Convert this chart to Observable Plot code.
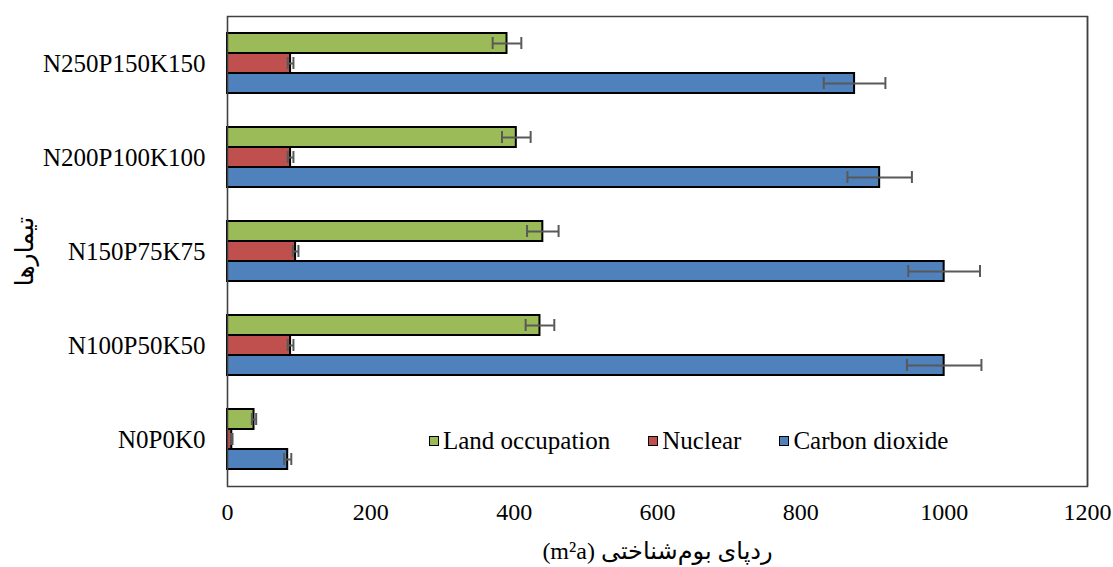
<!DOCTYPE html>
<html>
<head>
<meta charset="utf-8">
<script src="https://cdn.jsdelivr.net/npm/d3@7"></script>
<script src="https://cdn.jsdelivr.net/npm/@observablehq/plot@0.6"></script>
<style>
  body { margin: 0; background: #fff; }
  #chart { position: relative; width: 1113px; height: 567px; font-family: "Liberation Serif", "Times New Roman", "DejaVu Sans", serif; }
  #chart svg { display: block; }
  #chart svg text { font-family: "Liberation Serif", "Times New Roman", "DejaVu Sans", serif; font-variant-numeric: normal; }
  .legend { position: absolute; left: 429px; top: 427px; display: flex; align-items: center; font-size: 25px; color: #000; white-space: nowrap; }
  .legend .item { display: flex; align-items: center; margin-right: 38px; }
  .legend .sw { width: 8px; height: 8px; border: 1.5px solid #000; margin-right: 4px; }
</style>
</head>
<body>
<div id="chart"></div>
<script>
// Treatments (fertiliser levels), top to bottom
const treatments = ["N250P150K150", "N200P100K100", "N150P75K75", "N100P50K50", "N0P0K0"];
// Footprint components, drawn top to bottom inside each group
const series = ["Land occupation", "Nuclear", "Carbon dioxide"];
const seriesColors = ["#9BBB59", "#C0504D", "#4F81BD"];

// Mean footprint values (m²a) per treatment, same order as `treatments`
const landOccupation = [390, 403, 440, 436, 37];
const nuclear = [88, 88, 95, 88, 6];
const carbonDioxide = [875, 910, 1000, 1000, 84];

// Standard errors
const landOccupationErr = [20, 20, 22, 20, 3];
const nuclearErr = [4, 4, 4, 4, 1];
const carbonDioxideErr = [43, 45, 50, 52, 5];

const xTicks = [0, 200, 400, 600, 800, 1000, 1200];
const xTitle = "(m²a) ردپای بوم‌شناختی";
const yTitle = "تیمارها";

const values = [landOccupation, nuclear, carbonDioxide];
const errors = [landOccupationErr, nuclearErr, carbonDioxideErr];
const rows = treatments.flatMap((t, i) =>
  series.map((s, j) => ({
    treatment: t,
    series: s,
    value: values[j][i],
    lo: values[j][i] - errors[j][i],
    hi: values[j][i] + errors[j][i]
  }))
);

const errColor = "#595959";
const serif = "'Liberation Serif', 'Times New Roman', 'DejaVu Sans', serif";

const chart = Plot.plot({
  width: 1113,
  height: 567,
  marginLeft: 227,
  marginRight: 26,
  marginTop: 14,
  marginBottom: 80,
  style: { fontFamily: serif, fontSize: "24px", color: "#000", background: "#fff" },
  x: { domain: [0, 1200] },
  fy: { domain: treatments, padding: 0 },
  y: { domain: series, paddingInner: 0, paddingOuter: 0.75, axis: null },
  color: { domain: series, range: seriesColors },
  marks: [
    Plot.ruleX([0], { stroke: "#d0d0d0", strokeWidth: 1.5 }),
    Plot.barX(rows, { x: "value", y: "series", fy: "treatment", fill: "series", stroke: "#000", strokeWidth: 2 }),
    Plot.ruleY(rows, { y: "series", fy: "treatment", x1: "lo", x2: "hi", stroke: errColor, strokeWidth: 2 }),
    Plot.tickX(rows, { x: "lo", y: "series", fy: "treatment", stroke: errColor, strokeWidth: 2, insetTop: 4, insetBottom: 4 }),
    Plot.tickX(rows, { x: "hi", y: "series", fy: "treatment", stroke: errColor, strokeWidth: 2, insetTop: 4, insetBottom: 4 }),
    Plot.ruleX([1200], { stroke: "#404040", strokeWidth: 1.5 }),
    Plot.frame({ facet: "super", stroke: "#404040", strokeWidth: 1.5 }),
    Plot.axisFy({ anchor: "left", tickSize: 0, tickPadding: 22, fontSize: 25, fontFamily: serif, label: yTitle, labelAnchor: "center", labelOffset: 212 }),
    Plot.axisX({ ticks: xTicks, tickFormat: d => String(d), tickSize: 0, tickPadding: 16, fontSize: 24, fontFamily: serif, fontVariant: "normal", label: xTitle, labelArrow: "none", labelAnchor: "center", labelOffset: 72 })
  ]
});

const root = document.getElementById("chart");
root.appendChild(chart);

// Legend placed inside the plotting area
const legend = document.createElement("div");
legend.className = "legend";
series.forEach((s, j) => {
  const item = document.createElement("div");
  item.className = "item";
  const sw = document.createElement("span");
  sw.className = "sw";
  sw.style.background = seriesColors[j];
  const label = document.createElement("span");
  label.textContent = s;
  item.append(sw, label);
  legend.appendChild(item);
});
root.appendChild(legend);
</script>
</body>
</html>
